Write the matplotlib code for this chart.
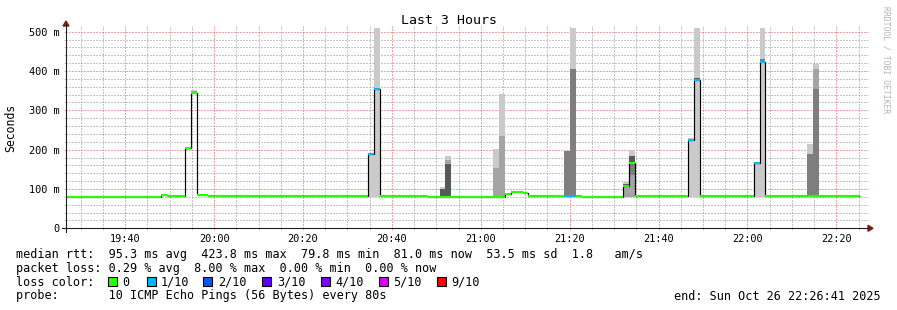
import matplotlib
matplotlib.use("Agg")
import matplotlib.pyplot as plt
from matplotlib.ticker import MultipleLocator, FuncFormatter
from matplotlib.lines import Line2D
from matplotlib.patches import Polygon, Rectangle

# ---------------- data ----------------
window_start = "19:26:41"
window_end = "22:26:41"
first_step = "19:26:44"
step_seconds = 80
n_steps = 134

# median rtt, run-length encoded over the 80 s steps
run_start = [0, 16, 17, 20, 21, 22, 24, 51, 52, 53, 61, 74, 75, 77, 78, 84, 86, 87,
             94, 95, 96, 105, 106, 107, 116, 117, 118, 126]
run_median_ms = [80.5, 85, 82.5, 203, 345, 85, 82, 188, 354, 82, 80.5, 87, 92, 89, 82, 82, 82, 80.5,
                 108, 166, 82, 224.5, 377, 82, 166.5, 423.8, 82, 81]
run_loss = [0, 0, 0, 0, 0, 0, 0, 1, 1, 0, 0, 0, 0, 0, 0, 1, 0, 0,
            0, 0, 0, 1, 1, 0, 1, 1, 0, 0]

# smoke: the 10 sorted ping times (ms) for steps with visible spread
smoke_step = [20, 21, 51, 52, 63, 64, 72, 73, 84, 85, 94, 95, 105, 106, 116, 117, 125, 126]
smoke_pings_ms = [
    [200, 201, 202, 203, 203, 203, 204, 204, 205, 206],
    [343, 344, 344, 345, 345, 345, 346, 347, 349, 351],
    [80, 186, 187, 187, 188, 188, 189, 189, 190, 190],
    [80, 352, 353, 353, 354, 354, 355, 355, 356, 600],
    [80, 80, 80, 80, 80, 80, 99, 99, 99, 104],
    [80, 80, 80, 80, 80, 80, 163, 163, 173, 184],
    [80, 80, 80, 80, 80, 80, 80, 82, 154, 201],
    [80, 80, 80, 80, 80, 80, 80, 82, 235, 342],
    [80, 81, 81, 82, 82, 82, 83, 196, 196, 196],
    [80, 81, 81, 82, 82, 82, 83, 405, 405, 600],
    [80, 80, 108, 108, 108, 108, 112, 112, 112, 118],
    [80, 80, 135, 165, 165, 167, 184, 184, 184, 199],
    [80, 223, 224, 224, 224, 225, 226, 227, 228, 229],
    [80, 374, 374, 375, 376, 377, 381, 381, 381, 600],
    [80, 165, 166, 166, 166, 167, 167, 168, 168, 169],
    [80, 421, 422, 423, 423.5, 424, 426, 431, 431, 600],
    [80, 80, 81, 81, 82, 82, 82, 189, 189, 214],
    [80, 80, 81, 81, 81, 81, 82, 355, 405, 418],
]

loss_levels = [0, 1, 2, 3, 4, 5, 9]
loss_labels = ["0", "1/10", "2/10", "3/10", "4/10", "5/10", "9/10"]
loss_colors = ["#26ff00", "#00b8ff", "#0059ff", "#5e00ff", "#7e00ff", "#dd00ff", "#ff0000"]

title = "Last 3 Hours"
y_label = "Seconds"
legend_rtt = "median rtt:  95.3 ms avg  423.8 ms max  79.8 ms min  81.0 ms now  53.5 ms sd  1.8   am/s"
legend_loss = "packet loss: 0.29 % avg  8.00 % max  0.00 % min  0.00 % now"
legend_color = "loss color:"
legend_probe = "probe:       10 ICMP Echo Pings (56 Bytes) every 80s"
legend_end = "end: Sun Oct 26 22:26:41 2025"
watermark = "RRDTOOL / TOBI OETIKER"

# ---------------- helpers ----------------
def hms(s):
    h, m, sec = (int(v) for v in s.split(":"))
    return h * 3600 + m * 60 + sec

def loss_color(n):
    col = loss_colors[0]
    for lv, c in zip(loss_levels, loss_colors):
        if n >= lv:
            col = c
    return col

MONO = "DejaVu Sans Mono"
W, H = 897, 310
fig = plt.figure(figsize=(W / 100, H / 100), dpi=100)
fig.patch.set_facecolor("white")

L, R, T, B = 66, 866, 27.7, 228.3
ax = fig.add_axes([L / W, 1 - B / H, (R - L) / W, (B - T) / H])
ax.set_facecolor("white")

t0 = hms(first_step)
x_start, x_end = hms(window_start), hms(window_end)
ax.set_xlim(x_start, x_end)
ax.set_ylim(0, 510)

# smoke (nested bands, darker towards the median)
for step, pings in zip(smoke_step, smoke_pings_ms):
    p = sorted(pings)
    x0 = t0 + step * step_seconds
    for ibot in range(1, 6):
        lo, hi = p[ibot - 1], p[10 - ibot]
        g = int(190 / 5 * (5 - ibot)) + 50
        ax.bar(x0, hi - lo, bottom=lo, width=step_seconds, align="edge",
               color="#%02x%02x%02x" % (g, g, g), linewidth=0, zorder=1)

# median line
edges = [t0 + s * step_seconds for s in run_start] + [t0 + n_steps * step_seconds]
ax.stairs(run_median_ms, edges, baseline=None, color="black", lw=0.85, zorder=3)
ax.hlines(run_median_ms, edges[:-1], edges[1:],
          colors=[loss_color(n) for n in run_loss], lw=1.5, zorder=4)

# grid / ticks
grid_c = (0.56, 0.56, 0.56, 0.45)
mgrid_c = (0.87, 0.31, 0.31, 0.45)
ax.xaxis.set_major_locator(MultipleLocator(1200))
ax.xaxis.set_minor_locator(MultipleLocator(300))
ax.yaxis.set_major_locator(MultipleLocator(100))
ax.yaxis.set_minor_locator(MultipleLocator(20))
ax.xaxis.set_major_formatter(FuncFormatter(lambda v, p: "%02d:%02d" % (int(v) // 3600, (int(v) % 3600) // 60)))
ax.yaxis.set_major_formatter(FuncFormatter(lambda v, p: "0" if v == 0 else "%d m" % round(v)))
ax.grid(which="major", color=mgrid_c, lw=0.72, ls=(0, (1, 2)), zorder=0.5)
ax.grid(which="minor", color=grid_c, lw=0.72, ls=(0, (1, 2)), zorder=0.5)
ax.set_axisbelow(True)
ax.tick_params(which="major", direction="out", length=1.44, width=0.72, color=mgrid_c,
               top=True, right=True, labelsize=7.4, pad=2.7)
ax.tick_params(which="minor", direction="out", length=1.44, width=0.72, color=grid_c,
               top=True, right=True)
ax.tick_params(axis="y", which="major", pad=2.9)
for lab in ax.get_xticklabels() + ax.get_yticklabels():
    lab.set_fontfamily(MONO)
for s in ax.spines.values():
    s.set_visible(False)

# axes with arrows (pixel coordinates of the image)
def P(x, y):
    return (x / W, 1 - y / H)

axis_c = (0.12, 0.12, 0.12)
arrow_c = (0.5, 0.12, 0.12)
fig.add_artist(Line2D([P(62, B)[0], P(869, B)[0]], [P(0, B)[1]] * 2, color=axis_c, lw=0.8,
                      transform=fig.transFigure))
fig.add_artist(Line2D([P(L, 0)[0]] * 2, [P(0, B + 4)[1], P(0, 24)[1]], color=axis_c, lw=0.8,
                      transform=fig.transFigure))
fig.add_artist(Polygon([P(868, B - 3), P(873, B), P(868, B + 3)], closed=True,
                       color=arrow_c, transform=fig.transFigure))
fig.add_artist(Polygon([P(L - 3, 26), P(L, 21), P(L + 3, 26)], closed=True,
                       color=arrow_c, transform=fig.transFigure))

# texts
fig.text(*P(448.5, 24), title, ha="center", va="baseline", fontsize=9.5, family=MONO)
fig.text(*P(11, 128), y_label, ha="center", va="center", rotation=90, fontsize=8.3, family=MONO)
fig.text(*P(886, 60), watermark, ha="center", va="center", rotation=270, fontsize=5.8,
         family=MONO, color="#b4b4b4")

fig.text(*P(16, 257.8), legend_rtt, ha="left", va="baseline", fontsize=8.5, family=MONO)
fig.text(*P(16, 271.8), legend_loss, ha="left", va="baseline", fontsize=8.5, family=MONO)
fig.text(*P(16, 285.6), legend_color, ha="left", va="baseline", fontsize=8.5, family=MONO)
fig.text(*P(16, 299.5), legend_probe, ha="left", va="baseline", fontsize=8.5, family=MONO)
fig.text(*P(881, 299.5), legend_end, ha="right", va="baseline", fontsize=8.5, family=MONO)

square_x = [108.3, 146.7, 203.3, 262.3, 320.6, 378.9, 437.2]
for sx, lab, col in zip(square_x, loss_labels, loss_colors):
    x0, y0 = P(sx, 286)
    fig.add_artist(Rectangle((x0, y0), 9 / W, 9 / H, facecolor=col, edgecolor="black",
                             lw=0.8, transform=fig.transFigure))
    fig.text(*P(sx + 14.4, 285.6), lab, ha="left", va="baseline", fontsize=8.5, family=MONO)

fig.savefig("out.png", dpi=100, facecolor="white")
